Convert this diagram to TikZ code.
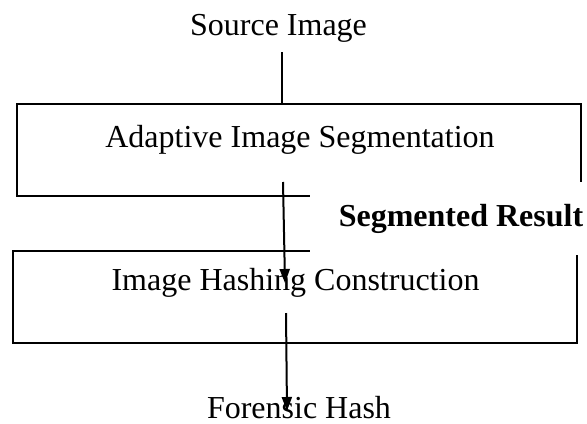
\documentclass[tikz,border=0pt]{standalone}
\usepackage{fontspec}
\setmainfont{Liberation Serif}
\usetikzlibrary{arrows.meta}

\tikzset{
  stagebox/.style={draw, line width=1pt, inner sep=0pt, minimum width=282pt, minimum height=46pt},
  steplabel/.style={anchor=base, inner sep=0pt, font=\fontsize{16}{19}\selectfont},
  flow/.style={line width=1pt, -{Triangle[length=7pt,width=5pt]}}
}

\begin{document}
\begin{tikzpicture}[x=0.5pt,y=-0.5pt]
\useasboundingbox (0,0) rectangle (587,423);

\node [stagebox] (seg) at (299,150) {};
\node [stagebox] (hash) at (295,297) {};
\node [fill=white, inner sep=0pt, minimum width=151pt, minimum height=36.5pt,
       font=\bfseries\fontsize{16}{19}\selectfont] (result) at (461,218.5) {Segmented Result};

\node [steplabel] (src) at (278.5,35) {Source Image};
\node [steplabel] (segtxt) at (300,147) {Adaptive Image Segmentation};
\node [steplabel] (hashtxt) at (295.5,290) {Image Hashing Construction};
\node [steplabel] (out) at (299,418) {Forensic Hash};

\coordinate (a1) at (282,52);
\coordinate (a2) at (283,182);
\coordinate (b2) at (285,283);
\coordinate (a3) at (286,313);
\coordinate (b3) at (287,411);

\draw [line width=1pt] (a1) -- (a1 |- seg.north);
\draw [flow] (a2) -- (b2);
\draw [flow] (a3) -- (b3);
\end{tikzpicture}
\end{document}
